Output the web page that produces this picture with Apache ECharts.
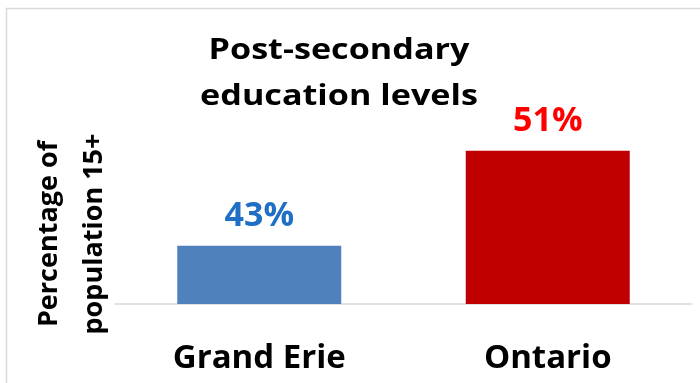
<!DOCTYPE html>
<html>
<head>
<meta charset="utf-8">
<script src="https://cdn.jsdelivr.net/npm/echarts@6/dist/echarts.min.js"></script>
<style>html,body{margin:0;padding:0;background:#fff}#c{width:700px;height:383px}</style>
</head>
<body>
<div id="c"></div>
<script>
const categories = ['Grand Erie', 'Ontario'];
const values = [43, 51];
const barColors = ['#4f81bd', '#c00000'];
const labelColors = ['#1f6fc5', '#ff0000'];
const titleText = 'Post-secondary\neducation levels';
const yTitle = 'Percentage of\npopulation 15+';

const FONT = '"Open Sans"';
const chart = echarts.init(document.getElementById('c'), null, {renderer: 'canvas'});
chart.setOption({
  animation: false,
  backgroundColor: '#fff',
  grid: {left: 115, right: 8, top: 102, bottom: 79, containLabel: false},
  xAxis: {
    type: 'category', data: categories,
    axisLine: {lineStyle: {color: '#d9d9d9', width: 1.5}},
    axisTick: {show: false},
    axisLabel: {fontFamily: FONT, fontWeight: 'bold', fontSize: 33, color: '#000', margin: 38}
  },
  yAxis: {
    type: 'value', min: 38.1, max: 55.1,
    axisLine: {show: false}, axisTick: {show: false}, axisLabel: {show: false}, splitLine: {show: false}
  },
  graphic: [
    {type: 'rect', shape: {x: 6.5, y: 8.5, width: 720, height: 400}, style: {fill: 'none', stroke: '#d9d9d9', lineWidth: 1.5}, silent: true},
    {type: 'text', x: 339, y: 74, scaleX: 1.22,
      style: {text: titleText, fontFamily: FONT, fontWeight: 'bold', fontSize: 28, fill: '#000', align: 'center', verticalAlign: 'middle', lineHeight: 46}},
    {type: 'text', x: 72, y: 234, rotation: Math.PI / 2,
      style: {text: yTitle, fontFamily: FONT, fontWeight: 'bold', fontSize: 27, fill: '#000', align: 'center', verticalAlign: 'middle', lineHeight: 45}}
  ],
  series: [{
    type: 'bar', barWidth: 164,
    data: values.map((v, i) => ({
      value: v,
      itemStyle: {color: barColors[i]},
      label: {color: labelColors[i]}
    })),
    label: {show: true, position: 'top', distance: 12, formatter: '{c}%', fontFamily: FONT, fontWeight: 'bold', fontSize: 34}
  }]
});
</script>
</body>
</html>
